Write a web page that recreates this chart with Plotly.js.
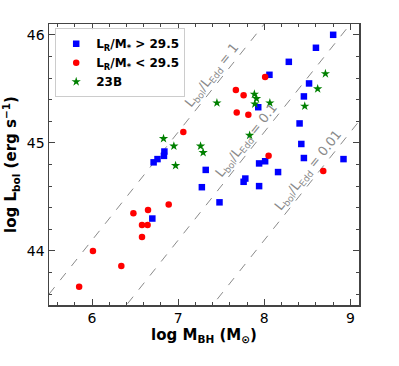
<!DOCTYPE html>
<html>
<head>
<meta charset="utf-8">
<script src="https://cdn.plot.ly/plotly-3.0.1.min.js"></script>
<style>
  html, body { margin: 0; padding: 0; background: #fff; }
  #chart { width: 399px; height: 366px; }
</style>
</head>
<body>
<div id="chart"></div>
<script>
// === DATI ===
// L_R/M* > 29.5 (quadrati blu)
const altoX = [8.80, 8.60, 8.285, 8.06, 8.52, 8.46, 7.93, 8.41, 8.43, 8.46, 8.92, 6.715, 6.76, 6.835, 6.84, 6.70, 7.275, 7.48, 7.32, 7.76, 7.78, 7.94, 7.94, 8.01, 8.16];
const altoY = [46.00, 45.88, 45.75, 45.63, 45.55, 45.43, 45.33, 45.18, 44.99, 44.86, 44.85, 44.82, 44.85, 44.88, 44.92, 44.30, 44.59, 44.45, 44.75, 44.64, 44.67, 44.60, 44.81, 44.83, 44.73];

// L_R/M* < 29.5 (cerchi rossi)
const bassoX = [5.85, 6.01, 6.34, 6.48, 6.58, 6.58, 6.65, 6.645, 6.89, 7.06, 7.67, 7.68, 7.76, 7.815, 8.01, 8.05, 8.685];
const bassoY = [43.67, 44.00, 43.86, 44.35, 44.24, 44.13, 44.38, 44.24, 44.43, 45.10, 45.49, 45.28, 45.44, 45.26, 45.61, 44.88, 44.74];

// 23B (stelle verdi)
const b23X = [6.83, 6.95, 6.97, 7.26, 7.29, 7.45, 7.83, 7.885, 7.91, 7.89, 8.065, 8.47, 8.62, 8.71];
const b23Y = [45.04, 44.97, 44.79, 44.97, 44.91, 45.37, 45.07, 45.45, 45.41, 45.36, 45.37, 45.34, 45.50, 45.64];

// Rapporti di Eddington e posizione delle etichette (log M)
const rapporti = [1, 0.1, 0.01];
const etichetteRapporti = ["1", "0.1", "0.01"];
const etichetteX = [7.40, 7.80, 8.52];

const xRange = [5.5, 9.1];
const yRange = [43.5, 46.1];
const logLEdd = 38.1; // log(1.26e38)

// === TRACCE ===
const linee = rapporti.map(r => ({
  x: xRange,
  y: xRange.map(m => m + logLEdd + Math.log10(r)),
  mode: "lines",
  line: { color: "#8a8a8a", width: 1, dash: "dash" },
  showlegend: false,
  hoverinfo: "skip"
}));

const punti = [
  { x: altoX, y: altoY, mode: "markers", name: "<b>L<sub>R</sub>/M<sub>*</sub> &gt; 29.5</b>",
    marker: { symbol: "square", color: "#0000ff", size: 6.5 } },
  { x: bassoX, y: bassoY, mode: "markers", name: "<b>L<sub>R</sub>/M<sub>*</sub> &lt; 29.5</b>",
    marker: { symbol: "circle", color: "#ff0000", size: 6.5 } },
  { x: b23X, y: b23Y, mode: "markers", name: "<b>23B</b>",
    marker: { symbol: "star", color: "#008000", size: 7 } }
];

// === ETICHETTE INCLINATE ===
const pxX = 310 / (xRange[1] - xRange[0]);
const pxY = 281 / (yRange[1] - yRange[0]);
const angolo = -Math.atan(pxY / pxX) * 180 / Math.PI;

const annotazioni = rapporti.map((r, i) => ({
  x: etichetteX[i],
  y: etichetteX[i] + logLEdd + Math.log10(r) + 0.12,
  xref: "x", yref: "y",
  text: "L<sub>bol</sub>/L<sub>Edd</sub> = " + etichetteRapporti[i],
  showarrow: false,
  textangle: angolo,
  font: { family: "DejaVu Sans", size: 13, color: "#8a8a8a" }
}));

const asse = {
  showgrid: false, zeroline: false,
  showline: true, linecolor: "#444", linewidth: 1.5, mirror: "allticks",
  ticks: "inside", ticklen: 6, tickwidth: 1, tickcolor: "#444",
  tickfont: { family: "DejaVu Sans", size: 14, color: "#000" }
};

const layout = {
  width: 399, height: 366,
  margin: { l: 49, r: 40, t: 24, b: 61 },
  paper_bgcolor: "#fff", plot_bgcolor: "#fff",
  showlegend: true,
  xaxis: Object.assign({}, asse, {
    range: xRange, dtick: 1, tick0: 6,
    minor: { dtick: 0.2, ticks: "inside", ticklen: 3, tickcolor: "#444" },
    title: { text: "<b>log M<sub>BH</sub> (M<sub>⊙</sub>)</b>", font: { family: "DejaVu Sans", size: 15, color: "#000" }, standoff: 4 }
  }),
  yaxis: Object.assign({}, asse, {
    range: yRange, dtick: 1, tick0: 44,
    minor: { dtick: 0.2, ticks: "inside", ticklen: 3, tickcolor: "#444" },
    title: { text: "<b>log L<sub>bol</sub> (erg s<sup>−1</sup>)</b>", font: { family: "DejaVu Sans", size: 15, color: "#000" }, standoff: 6 }
  }),
  legend: {
    x: 0.02, y: 0.985, xanchor: "left", yanchor: "top",
    bgcolor: "rgba(255,255,255,0.9)", bordercolor: "#cccccc", borderwidth: 1,
    font: { family: "DejaVu Sans", size: 12, color: "#000" },
    tracegroupgap: 2
  },
  annotations: annotazioni
};

Plotly.newPlot("chart", linee.concat(punti), layout, { displayModeBar: false, staticPlot: true });
</script>
</body>
</html>
